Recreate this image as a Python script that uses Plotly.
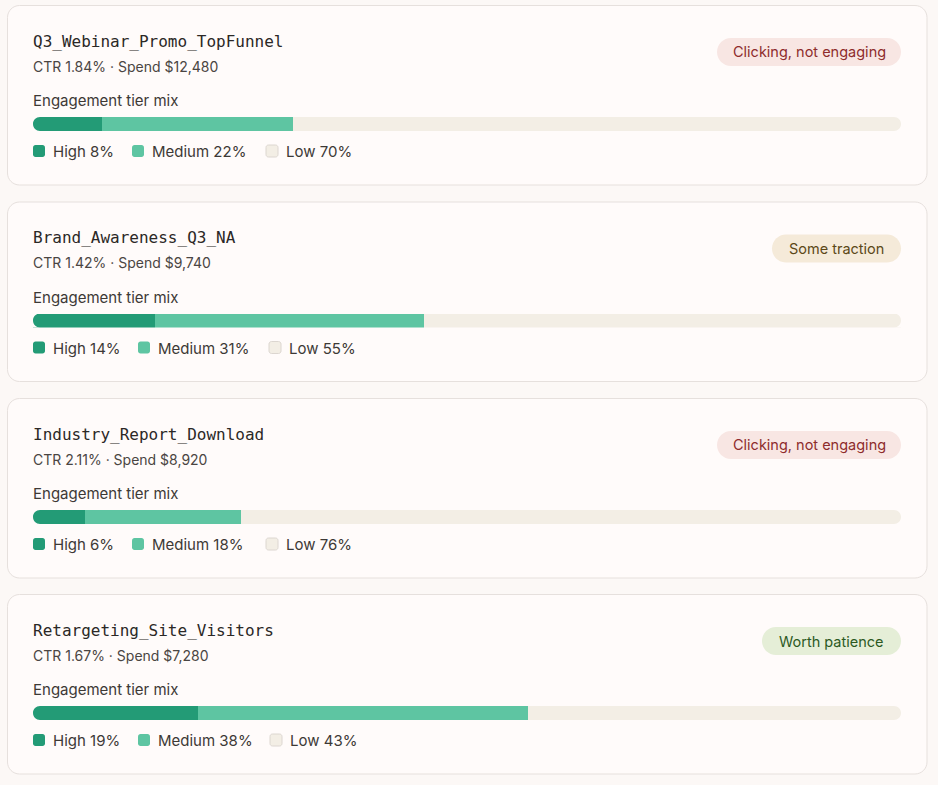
import plotly.graph_objects as go

# ---- data ----
campaigns = ["Q3_Webinar_Promo_TopFunnel", "Brand_Awareness_Q3_NA",
             "Industry_Report_Download", "Retargeting_Site_Visitors"]
ctr = [1.84, 1.42, 2.11, 1.67]
spend = [12480, 9740, 8920, 7280]
high = [8, 14, 6, 19]
medium = [22, 31, 18, 38]
low = [70, 55, 76, 43]
verdicts = ["Clicking, not engaging", "Some traction",
            "Clicking, not engaging", "Worth patience"]
tiers = ["High", "Medium", "Low"]

# ---- style ----
W, H = 938, 785
PAGE_BG = "#fcf8f6"
CARD_BG = "#fffbfa"
CARD_BORDER = "#e6e0dd"
TIER_COLORS = {"High": "#239b76", "Medium": "#5ec5a2", "Low": "#f3eee5"}
BADGE = {
    "Clicking, not engaging": ("#f8e6e3", "#8e2c2c"),
    "Some traction": ("#f5ead9", "#5c4818"),
    "Worth patience": ("#e5eed7", "#2c5a1f"),
}
SANS = "Inter, 'Noto Sans', sans-serif"
MONO = "'DejaVu Sans Mono', monospace"

CARD_X0, CARD_X1 = 7.5, 927
CARD_TOPS = [5.5, 202, 398.5, 594.5]
CARD_H = 179.5
BAR_X0, BAR_X1 = 33, 901
BAR_DY0, BAR_DY1 = 111.5, 125.5
LEGEND_X = [[33, 132, 266], [33, 138, 269], [33, 132, 266], [33, 138, 270]]
BADGE_W = {"Clicking, not engaging": 184, "Some traction": 129, "Worth patience": 139}


def X(px):
    return px / W


def Y(py):
    return 1 - py / H


K = 0.5523


def rounded_rect(x0, y0, x1, y1, r):
    pts = [
        f"M{X(x0 + r)},{Y(y0)}",
        f"L{X(x1 - r)},{Y(y0)}",
        f"C{X(x1 - r + r * K)},{Y(y0)} {X(x1)},{Y(y0 + r - r * K)} {X(x1)},{Y(y0 + r)}",
        f"L{X(x1)},{Y(y1 - r)}",
        f"C{X(x1)},{Y(y1 - r + r * K)} {X(x1 - r + r * K)},{Y(y1)} {X(x1 - r)},{Y(y1)}",
        f"L{X(x0 + r)},{Y(y1)}",
        f"C{X(x0 + r - r * K)},{Y(y1)} {X(x0)},{Y(y1 - r + r * K)} {X(x0)},{Y(y1 - r)}",
        f"L{X(x0)},{Y(y0 + r)}",
        f"C{X(x0)},{Y(y0 + r - r * K)} {X(x0 + r - r * K)},{Y(y0)} {X(x0 + r)},{Y(y0)}",
        "Z",
    ]
    return " ".join(pts)


def end_mask(xe, y0, y1, side):
    # mask outside a semicircular end; side=-1 left end, +1 right end
    r = (y1 - y0) / 2
    xc = xe - side * r
    return (f"M{X(xe)},{Y(y0)} L{X(xc)},{Y(y0)} "
            f"C{X(xc + side * r * K)},{Y(y0)} {X(xe)},{Y(y0 + r - r * K)} {X(xe)},{Y(y0 + r)} "
            f"C{X(xe)},{Y(y0 + r + r * K)} {X(xc + side * r * K)},{Y(y1)} {X(xc)},{Y(y1)} "
            f"L{X(xe)},{Y(y1)} Z")


def text_ann(x, y, text, font, xanchor="left"):
    return dict(x=X(x), y=Y(y), xref="paper", yref="paper", xanchor=xanchor,
                yanchor="middle", showarrow=False, text=text, font=font,
                borderpad=0, borderwidth=0)


fig = go.Figure()
shapes = []
annotations = []
layout_axes = {}

for i, name in enumerate(campaigns):
    top = CARD_TOPS[i]
    # card
    shapes.append(dict(type="path", xref="paper", yref="paper", layer="below",
                       path=rounded_rect(CARD_X0, top, CARD_X1, top + CARD_H, 12),
                       fillcolor=CARD_BG, line=dict(color=CARD_BORDER, width=1)))

    # bar subplot
    ax = "" if i == 0 else str(i + 1)
    by0, by1 = top + BAR_DY0, top + BAR_DY1
    layout_axes[f"xaxis{ax}"] = dict(domain=[X(BAR_X0), X(BAR_X1)], range=[0, 100],
                                     visible=False, fixedrange=True, anchor=f"y{ax}")
    layout_axes[f"yaxis{ax}"] = dict(domain=[Y(by1), Y(by0)], range=[-0.5, 0.5],
                                     visible=False, fixedrange=True, anchor=f"x{ax}")
    vals = {"High": high[i], "Medium": medium[i], "Low": low[i]}
    for t in tiers:
        fig.add_trace(go.Bar(x=[vals[t]], y=[0], orientation="h",
                             marker=dict(color=TIER_COLORS[t], line=dict(width=0)),
                             xaxis=f"x{ax}", yaxis=f"y{ax}", showlegend=False,
                             hoverinfo="skip", name=t))
    shapes.append(dict(type="path", xref="paper", yref="paper", layer="above",
                       path=end_mask(BAR_X0, by0, by1, -1), fillcolor=CARD_BG, line=dict(width=0)))
    shapes.append(dict(type="path", xref="paper", yref="paper", layer="above",
                       path=end_mask(BAR_X1, by0, by1, 1), fillcolor=CARD_BG, line=dict(width=0)))

    # texts
    annotations.append(text_ann(33, top + 36, name,
                                dict(family=MONO, size=16, color="#2b2826")))
    annotations.append(text_ann(33, top + 61, f"CTR {ctr[i]:.2f}% · Spend ${spend[i]:,}",
                                dict(family=SANS, size=14, color="#4a4542")))
    annotations.append(text_ann(33, top + 95, "Engagement tier mix",
                                dict(family=SANS, size=15, color="#3d3936")))

    # badge
    v = verdicts[i]
    bg, fg = BADGE[v]
    bw = BADGE_W[v]
    bx1 = 901
    bx0 = bx1 - bw
    by_top = top + 32.5
    shapes.append(dict(type="path", xref="paper", yref="paper", layer="below",
                       path=rounded_rect(bx0, by_top, bx1, by_top + 28, 14),
                       fillcolor=bg, line=dict(width=0)))
    annotations.append(text_ann((bx0 + bx1) / 2, by_top + 14, v,
                                dict(family=SANS, size=14.5, color=fg), xanchor="center"))

    # legend
    ly = top + 145.5
    for j, t in enumerate(tiers):
        lx = LEGEND_X[i][j]
        is_low = t == "Low"
        shapes.append(dict(type="path", xref="paper", yref="paper", layer="below",
                           path=rounded_rect(lx, ly - 6, lx + 12, ly + 6, 2.5),
                           fillcolor=TIER_COLORS[t],
                           line=dict(color="#dcd6d0" if is_low else TIER_COLORS[t],
                                     width=1 if is_low else 0)))
        annotations.append(text_ann(lx + 20, ly + 0.5, f"{t} {vals[t]}%",
                                    dict(family=SANS, size=15, color="#3d3936")))

fig.update_layout(
    width=W, height=H, autosize=False,
    margin=dict(l=0, r=0, t=0, b=0),
    paper_bgcolor=PAGE_BG, plot_bgcolor="rgba(0,0,0,0)",
    barmode="stack", bargap=0,
    shapes=shapes, annotations=annotations,
    showlegend=False,
    **layout_axes,
)

fig.write_html("out.html", config={"displayModeBar": False, "staticPlot": True})
